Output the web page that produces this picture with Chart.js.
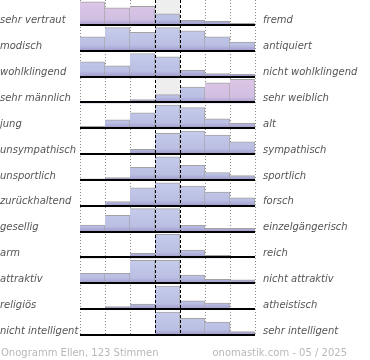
<!DOCTYPE html>
<html>
<head>
<meta charset="utf-8">
<script src="https://cdn.jsdelivr.net/npm/chart.js@4"></script>
<style>
  html, body { margin: 0; padding: 0; background: #fff; }
  #wrap { width: 370px; height: 360px; }
</style>
</head>
<body>
<div id="wrap"><canvas id="onogramm"></canvas></div>
<script>
const leftLabels = ["sehr vertraut", "modisch", "wohlklingend", "sehr männlich", "jung", "unsympathisch",
	"unsportlich", "zurückhaltend", "gesellig", "arm", "attraktiv", "religiös", "nicht intelligent"]
const rightLabels = ["fremd", "antiquiert", "nicht wohlklingend", "sehr weiblich", "alt", "sympathisch",
	"sportlich", "forsch", "einzelgängerisch", "reich", "nicht attraktiv", "atheistisch", "sehr intelligent"]
const columns = ["1", "2", "3", "4", "5", "6", "7"]

// Stimmenanteile je Zeile (aus dem Bild geschaetzt)
const r_vertraut = [23.5, 17.5, 19.2, 11.8, 5.5, 4.5, 2.5]
const r_modisch = [14.3, 23.3, 18.7, 23.3, 20.3, 14.3, 9.3]
const r_klang = [15.6, 11.6, 24, 20.6, 7.3, 4, 3.3]
const r_geschlecht = [0.7, 0.7, 3.7, 8.7, 16, 20.3, 23.7]
const r_alter = [2.7, 9, 16, 23.3, 21, 10, 5.7]
const r_sympathie = [0, 0, 5.7, 21.7, 24, 20, 13.3]
const r_sport = [2, 3.3, 13.3, 23.7, 15.3, 8.3, 5.3]
const r_forsch = [0, 5.3, 19, 24, 20.6, 14.6, 9]
const r_gesellig = [7.6, 17.6, 24.3, 24.3, 7.3, 4.3, 4.3]
const r_reich = [1.3, 0, 5.3, 24.7, 8.7, 3.3, 0]
const r_attraktiv = [11.3, 11.3, 24.5, 24.5, 9.5, 5, 4.5]
const r_religion = [0, 3.7, 6.3, 25, 9.7, 7.3, 0]
const r_intelligenz = [0, 0.5, 0.5, 24, 17.7, 14, 4.4]

const rows = [r_vertraut, r_modisch, r_klang, r_geschlecht, r_alter, r_sympathie, r_sport,
	r_forsch, r_gesellig, r_reich, r_attraktiv, r_religion, r_intelligenz]

const pinkRows = [0, 3]
const fontFam = '"DejaVu Sans", Verdana, sans-serif'

const barColor = (ctx) => {
	const chart = ctx.chart
	const s = chart.scales['r' + ctx.datasetIndex]
	if (!s || s.top === undefined || s.bottom === s.top) return '#c4c9e8'
	const row = rows[ctx.datasetIndex]
	const max = Math.max(...row)
	const g = chart.ctx.createLinearGradient(0, s.top, 0, s.bottom)
	if (pinkRows.includes(ctx.datasetIndex) && row[ctx.dataIndex] >= 0.7 * max) {
		g.addColorStop(0, '#dfc6e5')
		g.addColorStop(0.75, '#d0bfe2')
		g.addColorStop(1, '#a196c8')
	} else {
		g.addColorStop(0, '#c7cdec')
		g.addColorStop(0.75, '#babfe3')
		g.addColorStop(1, '#9b92c6')
	}
	return g
}

const scales = {
	x: { type: 'category', labels: columns, display: false, offset: true }
}
rows.forEach((row, i) => {
	scales['r' + i] = {
		type: 'linear',
		position: 'left',
		stack: 'rows',
		stackWeight: 1,
		weight: rows.length - i,
		min: 0,
		max: Math.max(...row) / 0.93,
		display: false
	}
})

const datasets = rows.map((row, i) => ({
	data: row,
	yAxisID: 'r' + i,
	xAxisID: 'x',
	grouped: false,
	backgroundColor: barColor,
	borderColor: '#a3a3a3',
	borderWidth: { top: 1, right: 1, left: 0, bottom: 0 },
	barPercentage: 1,
	categoryPercentage: 1
}))

const colEdges = (chart) => {
	const x = chart.scales.x
	const half = (x.getPixelForValue(1) - x.getPixelForValue(0)) / 2
	const edges = []
	for (let i = 0; i < columns.length; i++) edges.push(x.getPixelForValue(i) - half)
	edges.push(x.getPixelForValue(columns.length - 1) + half)
	return edges
}

const onogrammPlugin = {
	id: 'onogramm',
	beforeDatasetsDraw(chart) {
		const ctx = chart.ctx
		const area = chart.chartArea
		const edges = colEdges(chart)
		ctx.save()
		// grauer Hintergrund in der Mitte
		ctx.fillStyle = '#eeeeee'
		pinkRows.forEach(i => {
			const s = chart.scales['r' + i]
			ctx.fillRect(edges[3], s.top, edges[4] - edges[3], s.bottom - s.top)
		})
		// gepunktete Linien
		ctx.strokeStyle = '#8c8c8c'
		ctx.lineWidth = 1
		ctx.setLineDash([1, 2])
		edges.forEach((e, k) => {
			if (k === 3 || k === 4) return
			const px = Math.round(e) + 0.5
			ctx.beginPath()
			ctx.moveTo(px, area.top)
			ctx.lineTo(px, area.bottom)
			ctx.stroke()
		})
		ctx.restore()
	},
	afterDatasetsDraw(chart) {
		const ctx = chart.ctx
		const area = chart.chartArea
		const edges = colEdges(chart)
		ctx.save()
		// Grundlinien
		ctx.strokeStyle = '#000'
		ctx.lineWidth = 2
		rows.forEach((row, i) => {
			const s = chart.scales['r' + i]
			const y = Math.round(s.getPixelForValue(0)) - 1
			ctx.beginPath()
			ctx.moveTo(area.left, y)
			ctx.lineTo(area.right, y)
			ctx.stroke()
		})
		// gestrichelte Mittellinien
		ctx.lineWidth = 1
		ctx.setLineDash([3, 2])
		;[3, 4].forEach(k => {
			const px = Math.round(edges[k]) + 0.5
			ctx.beginPath()
			ctx.moveTo(px, area.top)
			ctx.lineTo(px, area.bottom)
			ctx.stroke()
		})
		ctx.setLineDash([])
		// Beschriftungen
		ctx.font = 'italic 10px ' + fontFam
		ctx.fillStyle = '#555'
		ctx.textBaseline = 'middle'
		rows.forEach((row, i) => {
			const s = chart.scales['r' + i]
			const y = s.bottom - 5
			ctx.textAlign = 'left'
			ctx.fillText(leftLabels[i], 0, y)
			ctx.fillText(rightLabels[i], area.right + 8, y)
		})
		// Fusszeile
		ctx.font = '10px ' + fontFam
		ctx.fillStyle = '#b8b8b8'
		ctx.textAlign = 'left'
		ctx.fillText('Onogramm Ellen, 123 Stimmen', 1, 353)
		ctx.textAlign = 'right'
		ctx.fillText('onomastik.com - 05 / 2025', 347, 353)
		ctx.restore()
	}
}

const onogramm = () => {
	const canvas = document.getElementById('onogramm').getContext('2d')
	const chart = new Chart(canvas, {
		type: 'bar',
		data: { labels: columns, datasets: datasets },
		options: {
			responsive: true,
			maintainAspectRatio: false,
			animation: false,
			layout: { padding: { left: 80, right: 115, top: 0, bottom: 24 } },
			plugins: { legend: { display: false }, tooltip: { enabled: false } },
			scales: scales
		},
		plugins: [onogrammPlugin]
	})
}

window.addEventListener('load', onogramm)
</script>
</body>
</html>
